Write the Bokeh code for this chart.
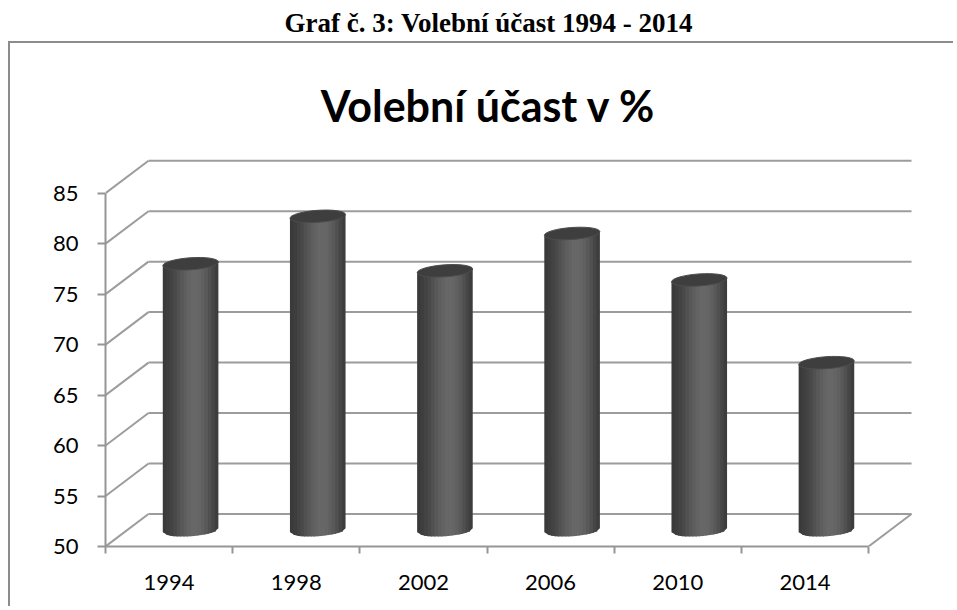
import numpy as np
from bokeh.plotting import figure
from bokeh.layouts import column
from bokeh.models import Range1d, FixedTicker, Label, Div
from bokeh.embed import file_html
from bokeh.resources import INLINE

# ---- data ----
years = ["1994", "1998", "2002", "2006", "2010", "2014"]
turnout = [76.4, 81.1, 75.7, 79.4, 74.8, 66.6]
y_ticks = [50, 55, 60, 65, 70, 75, 80, 85]
caption = "Graf č. 3: Volební účast 1994 - 2014"
chart_title = "Volební účast v %"

# ---- layout constants ----
W, H = 945, 565
LEFT, BOTTOM = 95, 62
CAT_PX = 127.17          # pixels per category on the front axis
UNIT_PX = 10.094         # pixels per percentage point
Y0 = y_ticks[0]
x_end = (W - LEFT) / CAT_PX
y_end = Y0 + (H - BOTTOM) / UNIT_PX
DX = 43.0 / CAT_PX       # depth offset (x)
DY = 32.5 / UNIT_PX      # depth offset (y)
n = len(years)
ymax = y_ticks[-1]

def fx(px):   # canvas pixel -> data x
    return (px - LEFT) / CAT_PX

def fy(py):   # canvas pixel (from top) -> data y
    return Y0 + ((H - BOTTOM) - py) / UNIT_PX

GRID = "#9c9c9c"
AXIS = "#959595"

p = figure(width=W, height=H, x_range=Range1d(0, x_end), y_range=Range1d(Y0, y_end),
           output_backend="svg", toolbar_location=None, title=None,
           min_border_left=LEFT, min_border_bottom=BOTTOM, min_border_top=0, min_border_right=0,
           styles={"border-left": "2px solid #8c8c8c", "border-top": "2px solid #8c8c8c",
                   "margin-left": "8px"})
p.grid.visible = False
p.outline_line_color = None
p.background_fill_color = "white"
p.border_fill_color = "white"

# back wall gridlines
p.segment(x0=[DX] * len(y_ticks), y0=[t + DY for t in y_ticks],
          x1=[n + DX] * len(y_ticks), y1=[t + DY for t in y_ticks],
          line_color=GRID, line_width=2)
# left wall diagonals
p.segment(x0=[0] * len(y_ticks), y0=y_ticks, x1=[DX] * len(y_ticks), y1=[t + DY for t in y_ticks],
          line_color=GRID, line_width=2)
# floor right edge
p.segment(x0=[n], y0=[Y0], x1=[n + DX], y1=[Y0 + DY], line_color=GRID, line_width=2)

# ---- cylinders ----
cyl_w = 55.6 / CAT_PX
ell_h = 12.0 / UNIT_PX
tilt = 0.07
tilt_d = (55.6 / 2) * np.sin(tilt) / UNIT_PX
N = 16
overlap = 0.8 / CAT_PX
edges = np.linspace(-1, 1, N + 1)
xs, ys, cols = [], [], []
for i, v in enumerate(turnout):
    xc = i + 0.5 + DX / 2
    base = Y0 + DY / 2
    top = v + DY / 2
    for k in range(N):
        s0, s1 = edges[k], edges[k + 1]
        x0 = xc + s0 * cyl_w / 2
        x1 = xc + s1 * cyl_w / 2 + (overlap if k < N - 1 else 0)
        b0 = base + s0 * tilt_d - ell_h / 2 * np.sqrt(max(0.0, 1 - s0 ** 2))
        b1 = base + s1 * tilt_d - ell_h / 2 * np.sqrt(max(0.0, 1 - s1 ** 2))
        t0 = top + s0 * tilt_d
        t1 = top + s1 * tilt_d
        xs.append([x0, x1, x1, x0])
        ys.append([t0, t1, b1, b0])
        u = ((s0 + s1) / 2 + 1) / 2
        g = int(58 + 46 * np.sin(np.pi * u ** 1.27) ** 1.3)
        cols.append("#%02x%02x%02x" % (g, g, g))
p.patches(xs, ys, fill_color=cols, line_color=None)

p.ellipse(x=[i + 0.5 + DX / 2 for i in range(n)], y=[v + DY / 2 for v in turnout],
          width=cyl_w, height=ell_h, angle=tilt,
          fill_color="#3e3e3e", line_color="#4c4c4c", line_width=1)

# ---- axes ----
xa = p.xaxis[0]
xa.ticker = FixedTicker(ticks=[i + 0.5 for i in range(n)], minor_ticks=list(range(n + 1)))
xa.major_label_overrides = {i + 0.5: y for i, y in enumerate(years)}
xa.bounds = (0, n)
xa.axis_line_color = AXIS
xa.axis_line_width = 2
xa.major_tick_out = 0
xa.major_tick_in = 0
xa.major_tick_line_color = None
xa.minor_tick_out = 7
xa.minor_tick_in = 0
xa.minor_tick_line_color = AXIS
xa.minor_tick_line_width = 2
xa.major_label_standoff = 21
xa.major_label_text_font = "Lato"
xa.major_label_text_font_size = "22px"
xa.major_label_text_color = "black"

ya = p.yaxis[0]
ya.ticker = FixedTicker(ticks=y_ticks, minor_ticks=[])
ya.bounds = (Y0, ymax)
ya.axis_line_color = AXIS
ya.axis_line_width = 2
ya.major_tick_out = 8
ya.major_tick_in = 0
ya.major_tick_line_color = AXIS
ya.major_tick_line_width = 2
ya.minor_tick_line_color = None
ya.major_label_standoff = 19
ya.major_label_text_font = "Lato"
ya.major_label_text_font_size = "22px"
ya.major_label_text_color = "black"

# chart title
p.add_layout(Label(x=fx(478), y=fy(62), text=chart_title, text_align="center",
                   text_baseline="alphabetic", text_font="Lato",
                   text_font_style="bold", text_font_size="43px", text_color="black"))

# caption above the chart box
cap = Div(text='<span style="position:relative; top:3px">' + caption + '</span>',
          width=957, height=41,
          styles={"font-family": "Liberation Serif", "font-weight": "bold",
                  "font-size": "27px", "line-height": "41px", "text-align": "center",
                  "color": "black", "height": "41px", "overflow": "hidden",
                  "padding-left": "20px", "box-sizing": "border-box", "margin": "0"})

layout = column(cap, p, spacing=0)
open("out.html", "w").write(file_html(layout, INLINE))
